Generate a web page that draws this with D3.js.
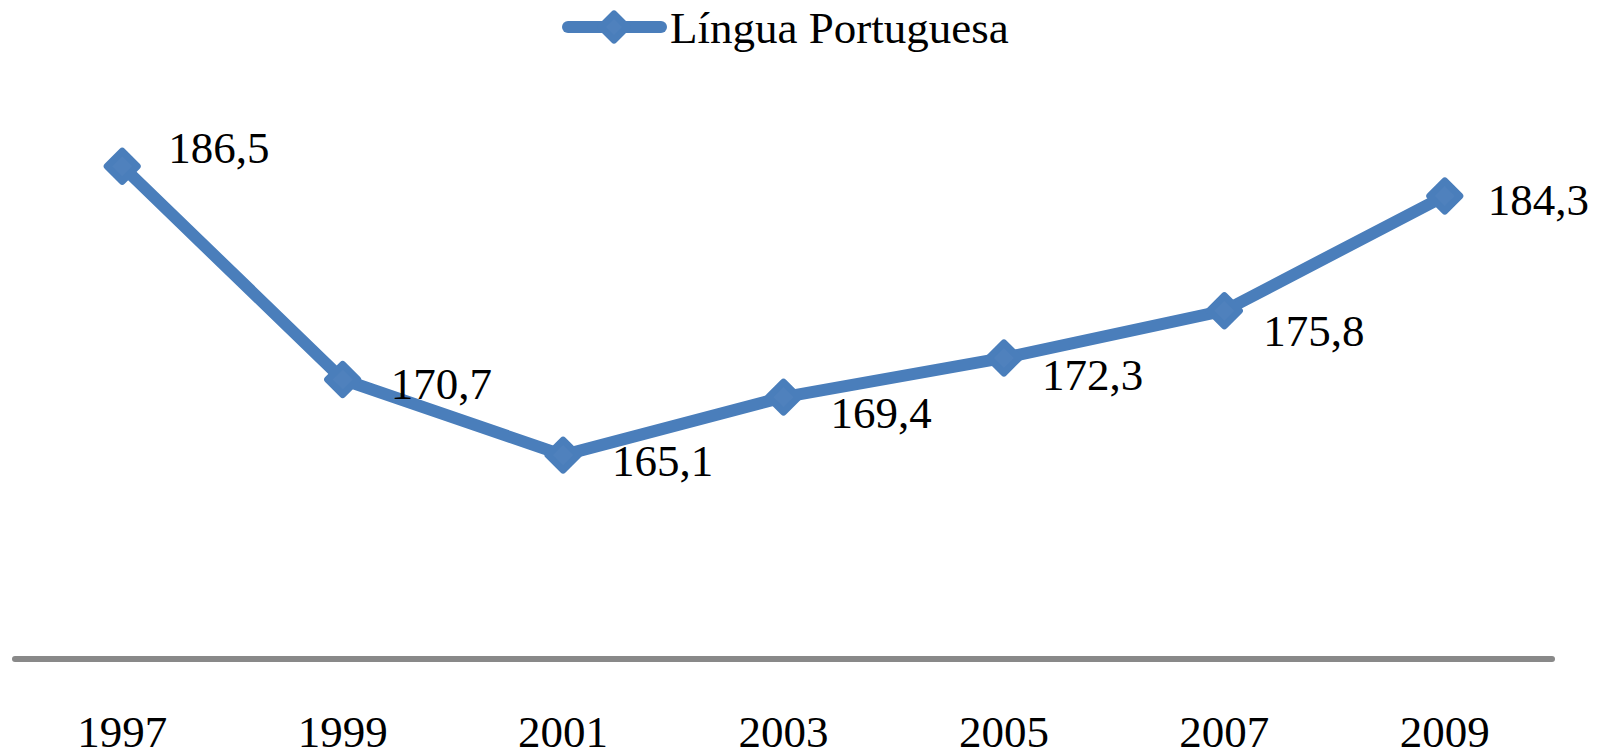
<!DOCTYPE html>
<html>
<head>
<meta charset="utf-8">
<script src="https://cdn.jsdelivr.net/npm/d3@7"></script>
<style>
  body { margin: 0; background: #fff; }
  text { font-family: "Liberation Serif", "Times New Roman", serif; fill: #000; }
</style>
</head>
<body>
<div class="chart"></div>
<script>
const years = ["1997", "1999", "2001", "2003", "2005", "2007", "2009"];
const values = [186.5, 170.7, 165.1, 169.4, 172.3, 175.8, 184.3];
const valueLabels = ["186,5", "170,7", "165,1", "169,4", "172,3", "175,8", "184,3"];
const seriesName = "Língua Portuguesa";

// label offsets relative to each point (manual placement as in the original)
const labelOffsets = [[46, -19], [48, 4], [49, 5], [47, 15], [38, 16], [39, 20], [43, 3]];

const W = 1601, H = 755;
const blue = "#4a7ebb";
const plot = { left: 12, right: 1555, top: 119, bottom: 659 };

const svg = d3.select(".chart").append("svg")
  .attr("width", W)
  .attr("height", H);

const x = d3.scaleBand()
  .domain(years)
  .range([plot.left, plot.right]);

const y = d3.scaleLinear()
  .domain([150, 190])
  .range([plot.bottom, plot.top]);

const px = d => x(d) + x.bandwidth() / 2;

// category axis
const xAxis = d3.axisBottom(x).tickSize(0).tickPadding(0);
const gx = svg.append("g")
  .attr("transform", `translate(0,${plot.bottom})`)
  .call(xAxis);
gx.select(".domain").remove();
gx.selectAll("text")
  .attr("dy", null)
  .attr("y", 88)
  .style("font-size", "45px")
  .style("font-family", "'Liberation Serif', serif");

svg.append("line")
  .attr("x1", plot.left + 3)
  .attr("x2", plot.right - 3)
  .attr("y1", y(150))
  .attr("y2", y(150))
  .attr("stroke", "#898989")
  .attr("stroke-width", 6)
  .attr("stroke-linecap", "round");

const line = d3.line()
  .x((d, i) => px(years[i]))
  .y(d => y(d));

svg.append("path")
  .datum(values)
  .attr("d", line)
  .attr("fill", "none")
  .attr("stroke", blue)
  .attr("stroke-width", 12)
  .attr("stroke-linejoin", "round");

const diamond = r => `M0,${-r}L${r},0L0,${r}L${-r},0Z`;

svg.append("g")
  .selectAll("path")
  .data(values)
  .join("path")
  .attr("transform", (d, i) => `translate(${px(years[i])},${y(d)})`)
  .attr("d", diamond(15))
  .attr("fill", "#4f81bd")
  .attr("stroke", blue)
  .attr("stroke-width", 7)
  .attr("stroke-linejoin", "round");

svg.append("g")
  .selectAll("text")
  .data(values)
  .join("text")
  .attr("x", (d, i) => px(years[i]) + labelOffsets[i][0])
  .attr("y", (d, i) => y(d) + labelOffsets[i][1])
  .attr("dy", "0.35em")
  .style("font-size", "45px")
  .text((d, i) => valueLabels[i]);

// legend
const lg = svg.append("g").attr("transform", "translate(563,27)");
lg.append("line")
  .attr("x1", 5).attr("x2", 98)
  .attr("stroke", blue)
  .attr("stroke-width", 12)
  .attr("stroke-linecap", "round");
lg.append("path")
  .attr("transform", "translate(51,0)")
  .attr("d", diamond(13))
  .attr("fill", "#4f81bd")
  .attr("stroke", blue)
  .attr("stroke-width", 7)
  .attr("stroke-linejoin", "round");
lg.append("text")
  .attr("x", 107)
  .attr("y", 16)
  .style("font-size", "45px")
  .text(seriesName);
</script>
</body>
</html>
